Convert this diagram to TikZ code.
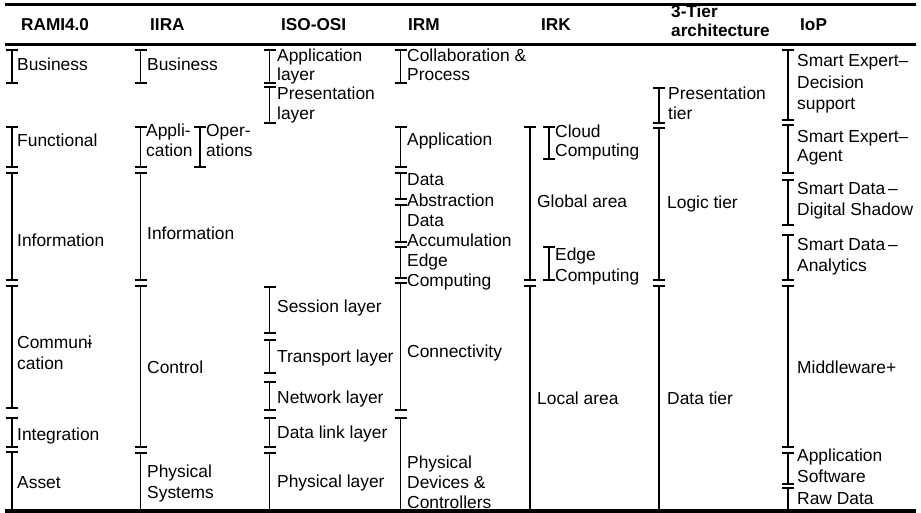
\documentclass[tikz,border=0pt]{standalone}
\usepackage{fontspec}
\setmainfont{Liberation Sans}
\newcommand\Brk[3]{\draw[brkline] (#1-6,#2) -- (#1+6,#2) (#1,#2) -- (#1,#3) (#1-6,#3) -- (#1+6,#3);}
\newcommand\Lbl[4]{\node[lbl] (#1) at (#2,#3) {#4};}
\newcommand\Hdr[4]{\node[hdr] (#1) at (#2,#3) {#4};}
\begin{document}
\begin{tikzpicture}[x=1pt,y=-1pt,
  lbl/.style={anchor=base west,inner sep=0pt,font=\fontsize{17.4}{20}\selectfont},
  hdr/.style={anchor=base west,inner sep=0pt,font=\fontsize{17.2}{20}\selectfont\bfseries},
  rulew/.style={line width=3pt},
  brkline/.style={line width=1.4pt}]
\useasboundingbox (0,0) rectangle (921,513);
\fill[white] (0,0) rectangle (921,513);
% rules
\draw[rulew] (5,4.5) -- (916,4.5);
\draw[rulew] (5,44.3) -- (916,44.3);
% headers
\Hdr{h1}{21}{31}{RAMI4.0}
\Hdr{h2}{150}{31}{IIRA}
\Hdr{h3}{281}{31}{ISO-OSI}
\Hdr{h4}{408}{31}{IRM}
\Hdr{h5}{541}{31}{IRK}
\Hdr{h6a}{671}{18}{3-Tier}
\Hdr{h6b}{671}{37}{architecture}
\Hdr{h7}{800}{31}{IoP}
% RAMI4.0
\Brk{12}{50}{83}\Brk{12}{127}{167}\Brk{12}{173}{280}\Brk{12}{286}{408}\Brk{12}{418}{447}\Brk{12}{452}{510}
\Lbl{r1}{17}{71}{Business}
\Lbl{r2}{17}{147}{Functional}
\Lbl{r3}{17}{247}{Information}
\Lbl{r4a}{17}{348}{Communi\kern-0.28em-}
\Lbl{r4b}{17}{369}{cation}
\Lbl{r5}{17}{440}{Integration}
\Lbl{r6}{17}{488}{Asset}
% IIRA
\Brk{140.5}{50}{83}\Brk{140.5}{127}{167}\Brk{140.5}{173}{280}\Brk{140.5}{286}{447}\Brk{140.5}{453}{510}
\Brk{200}{127}{167}
\Lbl{i1}{147}{71}{Business}
\Lbl{i2a}{146}{137}{Appli-}
\Lbl{i2b}{146}{157}{cation}
\Lbl{i3a}{206}{137}{Oper-}
\Lbl{i3b}{206}{157}{ations}
\Lbl{i4}{147}{240}{Information}
\Lbl{i5}{147}{373}{Control}
\Lbl{i6a}{147}{477}{Physical}
\Lbl{i6b}{147}{498}{Systems}
% ISO-OSI
\Brk{269.5}{50}{83}\Brk{269.5}{87}{123}\Brk{269.5}{287}{333}\Brk{269.5}{340}{373}\Brk{269.5}{382}{410}\Brk{269.5}{418}{447}\Brk{269.5}{453}{510}
\Lbl{o1a}{277}{62}{Application}
\Lbl{o1b}{277}{81}{layer}
\Lbl{o2a}{277}{100}{Presentation}
\Lbl{o2b}{277}{120}{layer}
\Lbl{o3}{277}{312}{Session layer}
\Lbl{o4}{277}{362}{Transport layer}
\Lbl{o5}{277}{403}{Network layer}
\Lbl{o6}{277}{438}{Data link layer}
\Lbl{o7}{277}{487}{Physical layer}
% IRM
\Brk{400.5}{50}{83}\Brk{400.5}{127}{167}\Brk{400.5}{173}{199}\Brk{400.5}{205}{242}\Brk{400.5}{247}{278}\Brk{400.5}{283}{410}\Brk{400.5}{418}{510}
\Lbl{m1a}{407}{62}{Collaboration \&}
\Lbl{m1b}{407}{81}{Process}
\Lbl{m2}{407}{146}{Application}
\Lbl{m3a}{407}{186}{Data}
\Lbl{m3b}{407}{206.5}{Abstraction}
\Lbl{m4a}{407}{226}{Data}
\Lbl{m4b}{407}{246.5}{Accumulation}
\Lbl{m5a}{407}{266}{Edge}
\Lbl{m5b}{407}{286}{Computing}
\Lbl{m6}{407}{357}{Connectivity}
\Lbl{m7a}{407}{468}{Physical}
\Lbl{m7b}{407}{488}{Devices \&}
\Lbl{m7c}{407}{508}{Controllers}
% IRK
\Brk{530}{127}{280}\Brk{530}{286}{510}
\Brk{549}{127}{159}\Brk{549}{247}{280}
\Lbl{k1a}{555}{138}{Cloud}
\Lbl{k1b}{555}{157}{Computing}
\Lbl{k2}{537}{208}{Global area}
\Lbl{k3a}{555}{260}{Edge}
\Lbl{k3b}{555}{281}{Computing}
\Lbl{k4}{537}{404}{Local area}
% 3-Tier
\Brk{659}{88}{123}\Brk{659}{128}{280}\Brk{659}{286}{510}
\Lbl{t1a}{668}{100}{Presentation}
\Lbl{t1b}{668}{120}{tier}
\Lbl{t2}{667}{209}{Logic tier}
\Lbl{t3}{667}{404}{Data tier}
% IoP
\Brk{788}{50}{120}\Brk{788}{125}{173}\Brk{788}{180}{225}\Brk{788}{235}{280}\Brk{788}{286}{447}\Brk{788}{453}{484}\Brk{788}{488}{510}
\Lbl{p1a}{797}{67}{Smart Expert--}
\Lbl{p1b}{797}{89}{Decision}
\Lbl{p1c}{797}{110}{support}
\Lbl{p2a}{797}{143}{Smart Expert--}
\Lbl{p2b}{797}{162}{Agent}
\Lbl{p3a}{797}{195}{Smart Data\,--}
\Lbl{p3b}{797}{215}{Digital Shadow}
\Lbl{p4a}{797}{251}{Smart Data\,--}
\Lbl{p4b}{797}{271.5}{Analytics}
\Lbl{p5}{797}{373}{Middleware+}
\Lbl{p6a}{797}{461.5}{Application}
\Lbl{p6b}{797}{482.5}{Software}
\Lbl{p7}{797}{504}{Raw Data}
% bottom rule
\draw[line width=3.5pt] (5,511) -- (916,511);
\end{tikzpicture}
\end{document}
